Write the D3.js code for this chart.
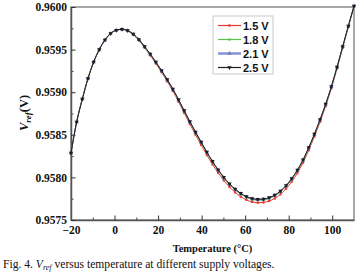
<!DOCTYPE html>
<html>
<head>
<meta charset="utf-8">
<script src="https://cdn.jsdelivr.net/npm/d3@7"></script>
<style>
  body { margin: 0; background: #fff; }
  svg { display: block; }
  .tick text { font-family: "Liberation Serif", "Times New Roman", serif; font-weight: bold; font-size: 11.5px; fill: #111; }
</style>
</head>
<body>
<div id="Chart"></div>
<script>
// temperature points (°C)
const temps = [-20, -17.4, -14.8, -12.2, -9.6, -7, -4.4, -1.8, 0.8, 3.4, 6, 8.6, 11.2, 13.8, 16.4, 19, 21.6,
  24.2, 26.8, 29.4, 32, 34.6, 37.2, 39.8, 42.4, 45, 47.6, 50.2, 52.8, 55.4, 58, 60.6, 63.2, 65.8, 68.4,
  71, 73.6, 76.2, 78.8, 81.4, 84, 86.6, 89.2, 91.8, 94.4, 97, 99.6, 102.2, 104.8, 107.4, 110];

const v15 = [0.958286, 0.958650, 0.958920, 0.959161, 0.959354, 0.959501, 0.959613, 0.959689, 0.959728,
  0.959736, 0.959719, 0.959675, 0.959609, 0.959524, 0.959433, 0.959337, 0.959235, 0.959127, 0.959014,
  0.958888, 0.958757, 0.958626, 0.958501, 0.958381, 0.958263, 0.958153, 0.958053, 0.957964, 0.957887,
  0.957824, 0.957773, 0.957736, 0.957712, 0.957703, 0.957706, 0.957723, 0.957753, 0.957801, 0.957867,
  0.957950, 0.958051, 0.958173, 0.958319, 0.958479, 0.958652, 0.958837, 0.959045, 0.959278, 0.959522,
  0.959768, 0.960007];

const v18 = [0.958286, 0.958650, 0.958920, 0.959161, 0.959354, 0.959501, 0.959613, 0.959689, 0.959728,
  0.959738, 0.959722, 0.959679, 0.959614, 0.959530, 0.959441, 0.959346, 0.959246, 0.959140, 0.959029,
  0.958904, 0.958775, 0.958646, 0.958523, 0.958405, 0.958288, 0.958179, 0.958080, 0.957992, 0.957916,
  0.957854, 0.957803, 0.957766, 0.957742, 0.957733, 0.957736, 0.957753, 0.957783, 0.957830, 0.957895,
  0.957977, 0.958077, 0.958197, 0.958341, 0.958499, 0.958670, 0.958853, 0.959060, 0.959290, 0.959531,
  0.959773, 0.960010];

const v21 = [0.958286, 0.958650, 0.958920, 0.959161, 0.959354, 0.959501, 0.959613, 0.959689, 0.959728,
  0.959739, 0.959723, 0.959681, 0.959616, 0.959533, 0.959444, 0.959350, 0.959250, 0.959144, 0.959033,
  0.958909, 0.958780, 0.958651, 0.958528, 0.958410, 0.958293, 0.958184, 0.958085, 0.957997, 0.957921,
  0.957859, 0.957808, 0.957771, 0.957747, 0.957738, 0.957741, 0.957758, 0.957788, 0.957835, 0.957900,
  0.957982, 0.958082, 0.958202, 0.958346, 0.958504, 0.958675, 0.958857, 0.959063, 0.959293, 0.959533,
  0.959775, 0.960011];

const v25 = [0.958286, 0.958650, 0.958920, 0.959161, 0.959354, 0.959501, 0.959613, 0.959689, 0.959728,
  0.959739, 0.959724, 0.959683, 0.959619, 0.959536, 0.959448, 0.959354, 0.959255, 0.959149, 0.959038,
  0.958914, 0.958785, 0.958656, 0.958533, 0.958415, 0.958298, 0.958189, 0.958090, 0.958002, 0.957926,
  0.957864, 0.957813, 0.957776, 0.957752, 0.957743, 0.957746, 0.957763, 0.957793, 0.957840, 0.957905,
  0.957987, 0.958087, 0.958207, 0.958351, 0.958509, 0.958680, 0.958862, 0.959067, 0.959296, 0.959536,
  0.959777, 0.960012];

const seriesNames = ["1.5 V", "1.8 V", "2.1 V", "2.5 V"];
const xTicks = [-20, 0, 20, 40, 60, 80, 100];
const yTicks = [0.9575, 0.958, 0.9585, 0.959, 0.9595, 0.96];

const series = [
  {name: seriesNames[0], values: v15, color: "#e8372a", marker: d3.symbolSquare, size: 5, rot: 0},
  {name: seriesNames[1], values: v18, color: "#5cc34a", marker: d3.symbolSquare, size: 5, rot: 0},
  {name: seriesNames[2], values: v21, color: "#6a78c8", marker: d3.symbolTriangle, size: 8, rot: 0},
  {name: seriesNames[3], values: v25, color: "#1e1e1e", marker: d3.symbolTriangle, size: 8, rot: 180}
];

const W = 359, H = 277;
const dims = {left: 71, right: 354, top: 7, bottom: 220};

const svg = d3.select("#Chart").append("svg")
  .attr("width", W).attr("height", H)
  .attr("xmlns", "http://www.w3.org/2000/svg");

const xScale = d3.scaleLinear([-20, 110], [dims.left, dims.right]);
const yScale = d3.scaleLinear([0.9575, 0.96], [dims.bottom, dims.top]);

// frame
svg.append("rect")
  .attr("x", dims.left).attr("y", dims.top)
  .attr("width", dims.right - dims.left).attr("height", dims.bottom - dims.top)
  .attr("fill", "none").attr("stroke", "#777").attr("stroke-width", 1.3);

// minor ticks
svg.append("g").attr("transform", `translate(0 ${dims.bottom})`)
  .call(d3.axisBottom(xScale).tickValues([-10, 10, 30, 50, 70, 90]).tickSizeInner(-2.5).tickSizeOuter(0).tickFormat(""))
  .call(g => g.select(".domain").remove())
  .selectAll("line").attr("stroke", "#444");
svg.append("g").attr("transform", `translate(${dims.left} 0)`)
  .call(d3.axisLeft(yScale).tickValues([0.95775, 0.95825, 0.95875, 0.95925, 0.95975]).tickSizeInner(-2.5).tickSizeOuter(0).tickFormat(""))
  .call(g => g.select(".domain").remove())
  .selectAll("line").attr("stroke", "#444");

// major axes
const xAxisG = svg.append("g").attr("transform", `translate(0 ${dims.bottom})`)
  .call(d3.axisBottom(xScale).tickValues(xTicks).tickSizeInner(-4.5).tickSizeOuter(0).tickPadding(6).tickFormat(d3.format("d")));
xAxisG.select(".domain").attr("stroke", "#555").attr("stroke-width", 1.5);
xAxisG.selectAll("line").attr("stroke", "#333");

const yAxisG = svg.append("g").attr("transform", `translate(${dims.left} 0)`)
  .call(d3.axisLeft(yScale).tickValues(yTicks).tickSizeInner(-4.5).tickSizeOuter(0).tickPadding(4).tickFormat(d3.format(".4f")));
yAxisG.select(".domain").attr("stroke", "#555").attr("stroke-width", 1.5);
yAxisG.selectAll("line").attr("stroke", "#333");

// curves
const line = d3.line().x((d, i) => xScale(temps[i])).y(d => yScale(d)).curve(d3.curveMonotoneX);
const plot = svg.append("g");
for (const s of series) {
  plot.append("path")
    .attr("d", line(s.values))
    .attr("fill", "none").attr("stroke", s.color).attr("stroke-width", 1);
  plot.selectAll(null)
    .data(s.values)
    .join("path")
      .attr("d", d3.symbol().type(s.marker).size(s.size))
      .attr("transform", (d, i) => `translate(${xScale(temps[i])} ${yScale(d)}) rotate(${s.rot})`)
      .attr("fill", s.color);
}

// legend
const lg = svg.append("g");
lg.append("rect")
  .attr("x", 213).attr("y", 16).attr("width", 60).attr("height", 58)
  .attr("fill", "#fff").attr("stroke", "#bbb").attr("stroke-width", 0.8);
const items = lg.selectAll("g.item")
  .data(series)
  .join("g")
    .attr("class", "item")
    .attr("transform", (d, i) => `translate(218 ${25.5 + i * 14})`);
items.append("line")
  .attr("x1", 0).attr("x2", 23).attr("y1", 0).attr("y2", 0)
  .attr("stroke", d => d.color)
  .attr("stroke-width", (d, i) => i === 2 ? 2.5 : 1.2)
  .attr("stroke-opacity", (d, i) => i === 2 ? 0.8 : 1);
items.append("path")
  .attr("d", d => d3.symbol().type(d.marker).size(d.size)())
  .attr("transform", d => `translate(11.5 0) rotate(${d.rot})`)
  .attr("fill", d => d.color);
items.append("text")
  .attr("x", 25).attr("y", 4)
  .attr("font-family", "Liberation Sans, Arial, sans-serif")
  .attr("font-weight", "bold").attr("font-size", 11)
  .attr("fill", "#111")
  .text(d => d.name);

// axis titles
const yTitle = svg.append("text")
  .attr("transform", "translate(28 113) rotate(-90)")
  .attr("text-anchor", "middle")
  .attr("font-family", "Liberation Serif, serif")
  .attr("font-weight", "bold").attr("font-size", 12.5)
  .attr("fill", "#111");
yTitle.append("tspan").attr("font-style", "italic").text("V");
yTitle.append("tspan").attr("font-style", "italic").attr("font-size", 9).attr("dy", 3).text("ref");
yTitle.append("tspan").attr("dy", -3).text("(V)");

svg.append("text")
  .attr("x", (dims.left + dims.right) / 2).attr("y", 252)
  .attr("text-anchor", "middle")
  .attr("font-family", "Liberation Serif, serif")
  .attr("font-weight", "bold").attr("font-size", 10.5)
  .attr("fill", "#111")
  .text("Temperature (°C)");

// caption
const cap = svg.append("text")
  .attr("x", 3).attr("y", 268)
  .attr("font-family", "Liberation Serif, serif")
  .attr("font-size", 11.6)
  .attr("fill", "#111");
cap.append("tspan").text("Fig. 4.  ");
cap.append("tspan").attr("font-style", "italic").text("V");
cap.append("tspan").attr("font-style", "italic").attr("font-size", 8).attr("dy", 2).text("ref");
cap.append("tspan").attr("dy", -2).text(" versus temperature at different supply voltages.");
</script>
</body>
</html>
